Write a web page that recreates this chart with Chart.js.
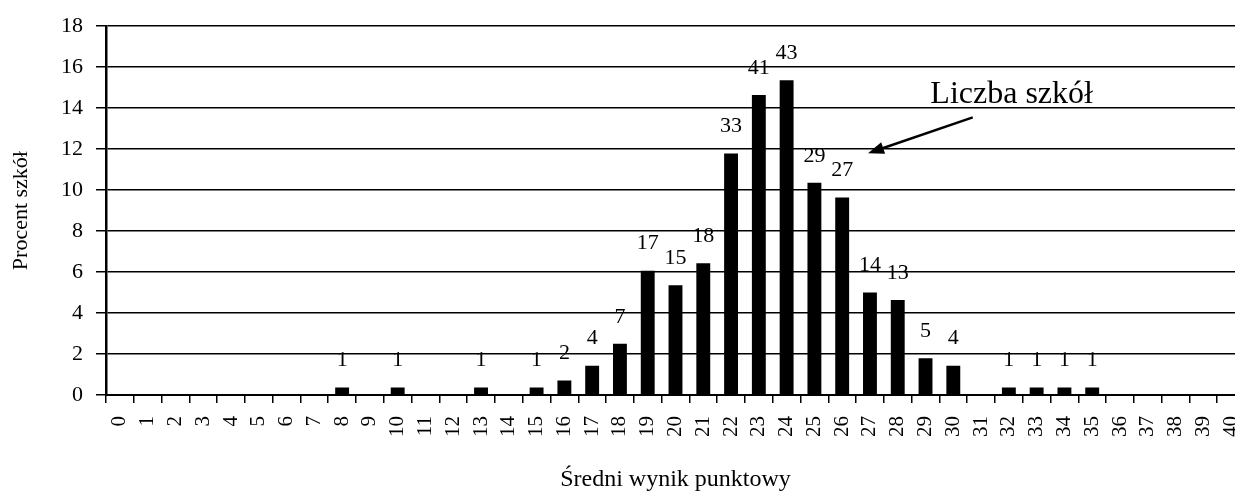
<!DOCTYPE html>
<html>
<head>
<meta charset="utf-8">
<script src="https://cdn.jsdelivr.net/npm/chart.js@4"></script>
<style>
  html, body { margin: 0; padding: 0; background: #fff; overflow: hidden; }
  #wrap { width: 1250px; height: 495px; }
</style>
</head>
<body>
<div id="wrap"><canvas id="myChart"></canvas></div>
<script>
var scores = ['0','1','2','3','4','5','6','7','8','9','10','11','12','13','14','15','16','17','18','19','20',
  '21','22','23','24','25','26','27','28','29','30','31','32','33','34','35','36','37','38','39','40'];
// procent szkol
var percents = [0,0,0,0,0,0,0,0,0.36,0,0.36,0,0,0.36,0,0.36,0.71,1.43,2.5,6.07,5.36,
  6.43,11.79,14.64,15.36,10.36,9.64,5.0,4.64,1.79,1.43,0,0.36,0.36,0.36,0.36,0,0,0,0,0];
// liczba szkol (labels above the bars)
var counts = [0,0,0,0,0,0,0,0,1,0,1,0,0,1,0,1,2,4,7,17,15,
  18,33,41,43,29,27,14,13,5,4,0,1,1,1,1,0,0,0,0,0];
var yTicks = [0,2,4,6,8,10,12,14,16,18];

var serif = "'Liberation Serif', 'Times New Roman', serif";

var extras = {
  id: 'extras',
  afterDraw: function(chart) {
    var ctx = chart.ctx;
    var xs = chart.scales.x, ys = chart.scales.y;
    var meta = chart.getDatasetMeta(0);
    ctx.save();
    ctx.fillStyle = '#000';
    // counts above bars
    ctx.font = '22px ' + serif;
    ctx.textAlign = 'center';
    ctx.textBaseline = 'bottom';
    for (var i = 0; i < counts.length; i++) {
      if (!counts[i]) continue;
      var bar = meta.data[i];
      ctx.fillText(String(counts[i]), bar.x, bar.y - 16);
    }
    // x labels, rotated counter-clockwise
    ctx.font = '21px ' + serif;
    ctx.textAlign = 'right';
    ctx.textBaseline = 'middle';
    for (var j = 0; j < scores.length; j++) {
      ctx.save();
      ctx.translate(xs.getPixelForValue(j), xs.top + 21);
      ctx.rotate(-Math.PI / 2);
      ctx.fillText(scores[j], 0, 0);
      ctx.restore();
    }
    // annotation
    ctx.font = '32px ' + serif;
    ctx.textAlign = 'center';
    ctx.textBaseline = 'middle';
    ctx.fillText('Liczba szkół', xs.getPixelForValue(32.1), ys.getPixelForValue(14.65));
    var x1 = xs.getPixelForValue(30.7), y1 = ys.getPixelForValue(13.55);
    var x2 = xs.getPixelForValue(26.93), y2 = ys.getPixelForValue(11.8);
    var a = Math.atan2(y2 - y1, x2 - x1);
    ctx.strokeStyle = '#000';
    ctx.lineWidth = 2.5;
    ctx.beginPath();
    ctx.moveTo(x1, y1);
    ctx.lineTo(x2 - 10 * Math.cos(a), y2 - 10 * Math.sin(a));
    ctx.stroke();
    ctx.beginPath();
    ctx.moveTo(x2, y2);
    ctx.lineTo(x2 - 16 * Math.cos(a) + 6 * Math.sin(a), y2 - 16 * Math.sin(a) - 6 * Math.cos(a));
    ctx.lineTo(x2 - 16 * Math.cos(a) - 6 * Math.sin(a), y2 - 16 * Math.sin(a) + 6 * Math.cos(a));
    ctx.closePath();
    ctx.fill();
    ctx.restore();
  }
};

var ctx = document.getElementById('myChart').getContext('2d');
var chart = new Chart(ctx, {
  type: 'bar',
  data: {
    labels: scores,
    datasets: [{
      label: 'Procent szkół',
      data: percents,
      backgroundColor: '#000',
      borderWidth: 0,
      barPercentage: 0.5,
      categoryPercentage: 1.0
    }]
  },
  options: {
    responsive: true,
    maintainAspectRatio: false,
    animation: false,
    events: [],
    layout: { padding: { top: 24, right: 5, left: 0, bottom: 0 } },
    plugins: { legend: { display: false }, tooltip: { enabled: false } },
    scales: {
      x: {
        offset: true,
        grid: { offset: true, drawOnChartArea: false, drawTicks: true, tickLength: 8, color: '#000', lineWidth: 1.5 },
        border: { color: '#000', width: 2 },
        ticks: { display: false, autoSkip: false },
        title: { display: true, text: 'Średni wynik punktowy', color: '#000', font: { family: serif, size: 24 }, padding: { top: 0, bottom: 1 } },
        afterFit: function(s) { s.height = 100; }
      },
      y: {
        min: 0,
        max: 18,
        afterBuildTicks: function(s) { s.ticks = yTicks.map(function(v) { return { value: v }; }); },
        grid: { color: '#000', lineWidth: 1.5, drawTicks: true, tickLength: 10 },
        border: { color: '#000', width: 2.5 },
        ticks: { color: '#000', padding: 13, font: { family: serif, size: 22 } },
        title: { display: true, text: 'Procent szkół', color: '#000', font: { family: serif, size: 22 }, padding: { top: 8, bottom: 0 } },
        afterFit: function(s) { s.width = 106; }
      }
    }
  },
  plugins: [extras]
});
</script>
</body>
</html>
